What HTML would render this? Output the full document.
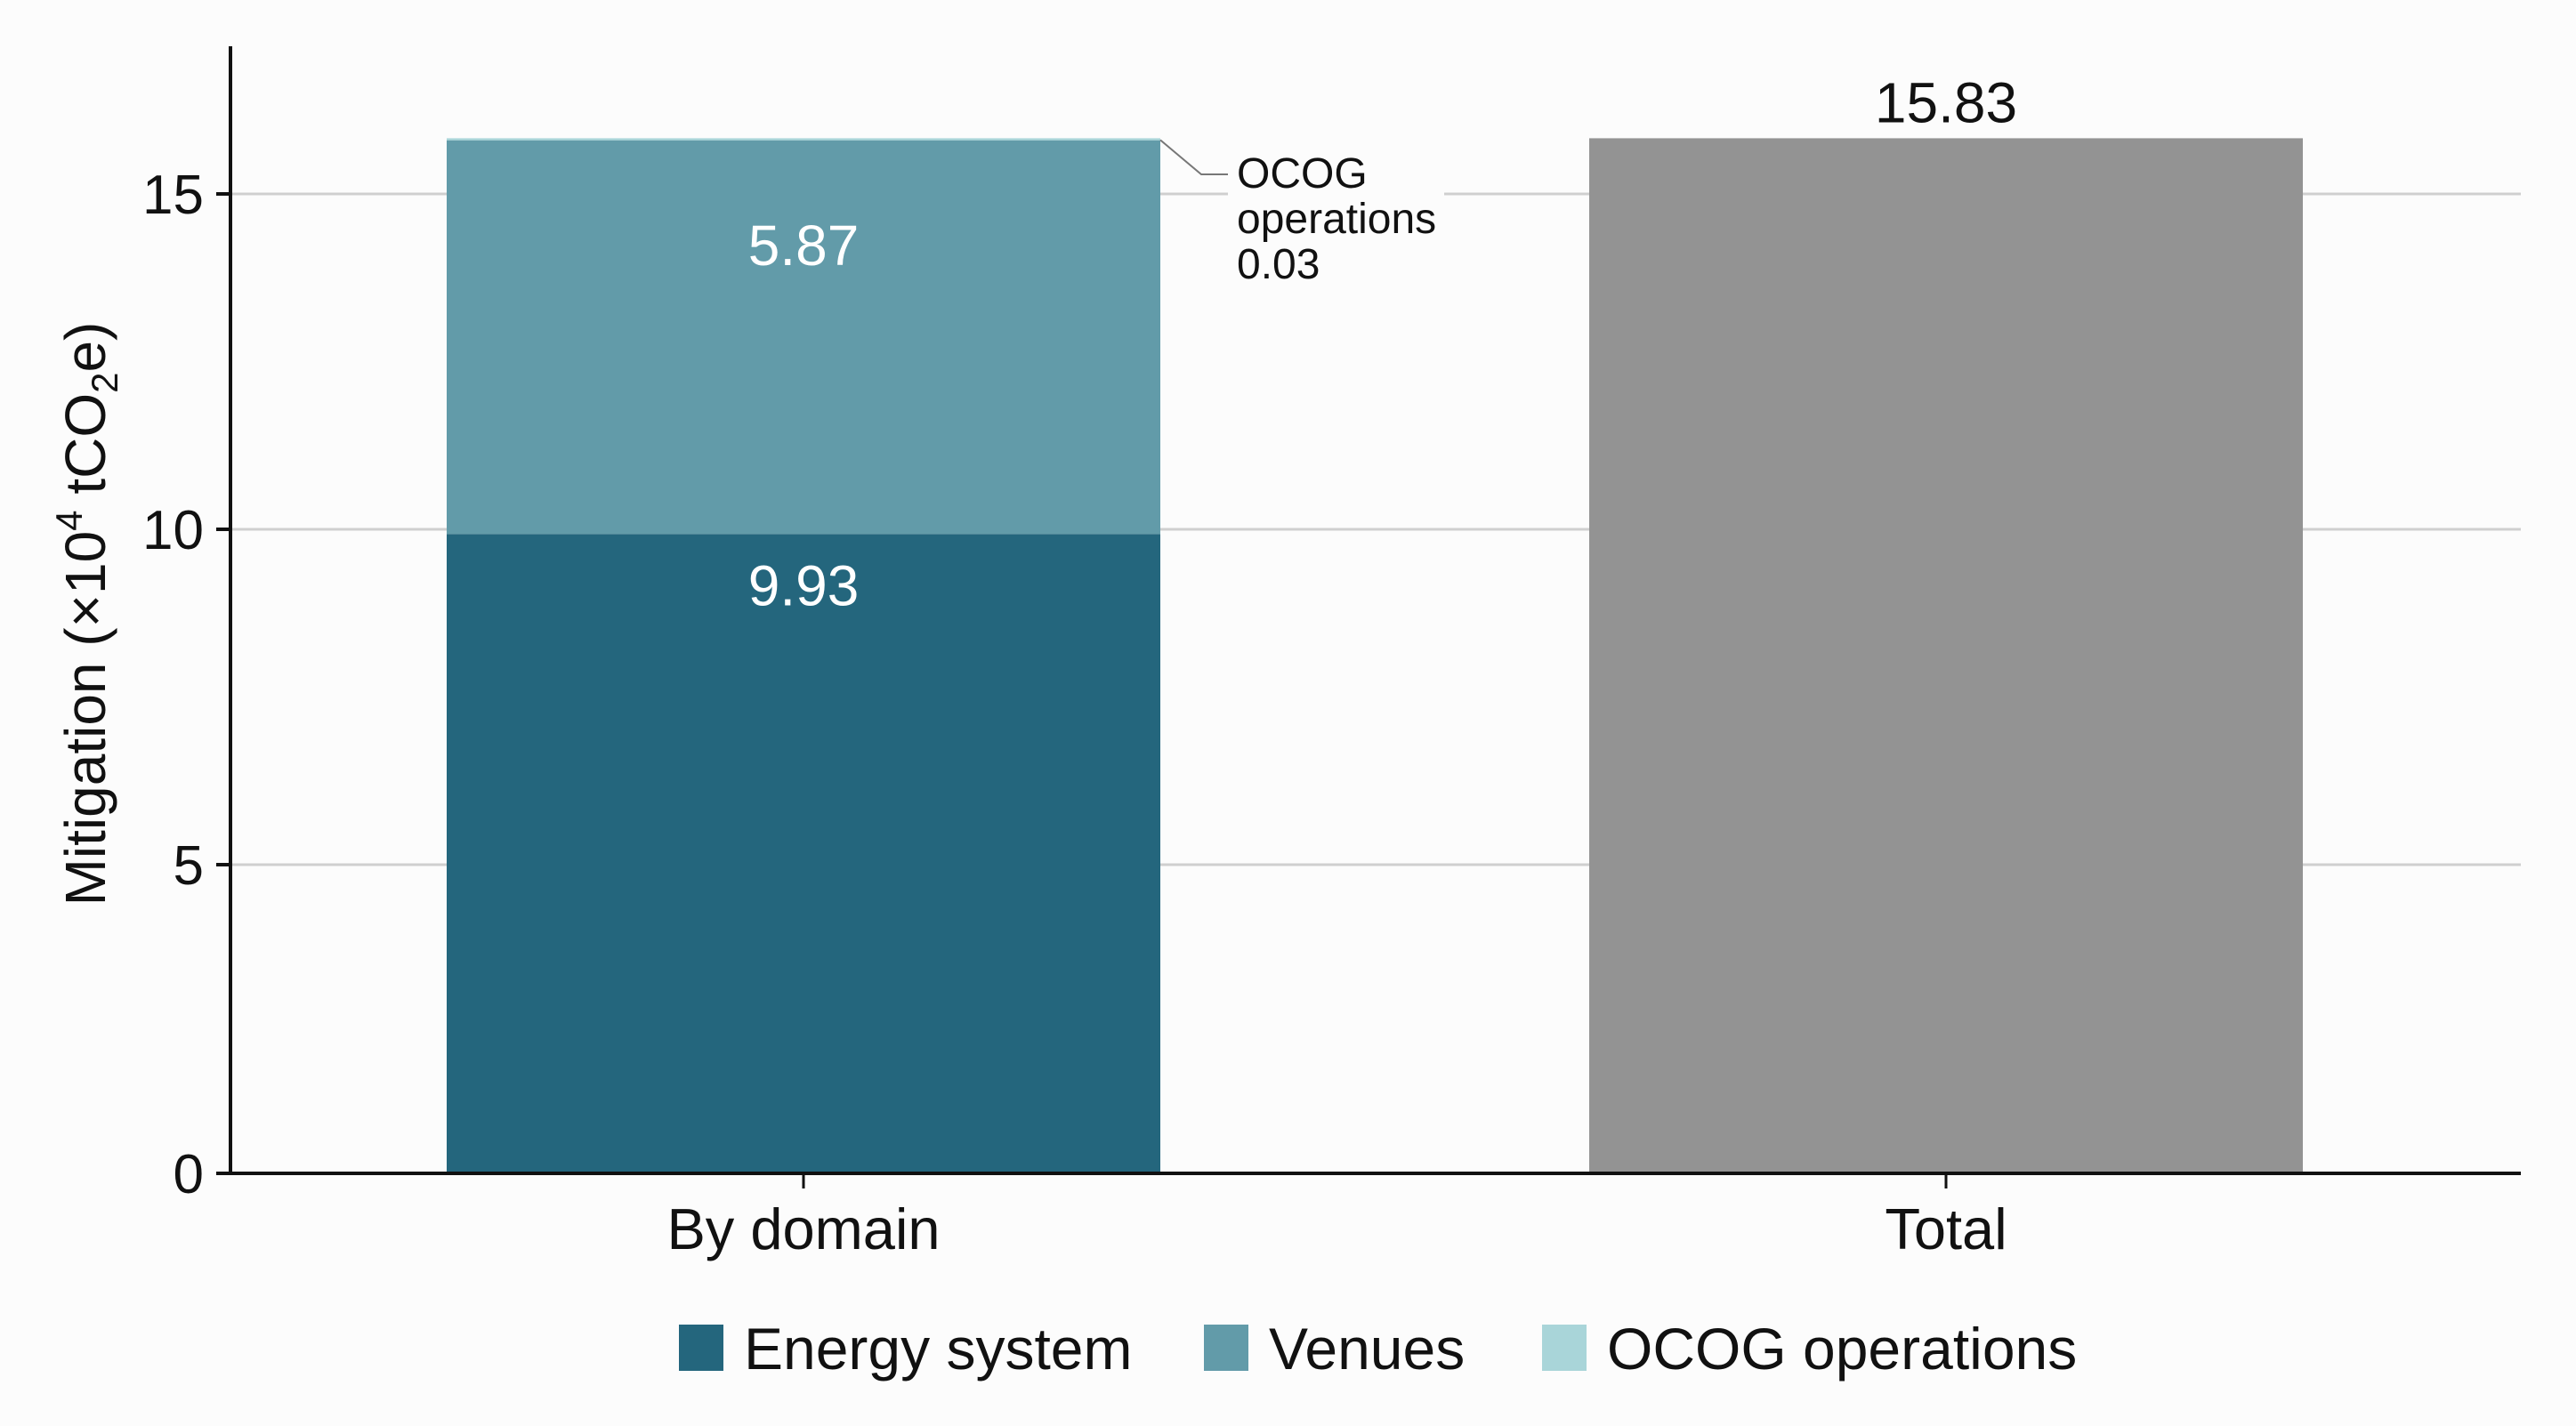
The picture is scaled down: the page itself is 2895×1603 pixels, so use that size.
<!DOCTYPE html>
<html><head><meta charset="utf-8"><style>
html,body{margin:0;padding:0;background:#fcfcfc;}
svg{display:block;font-family:"Liberation Sans",sans-serif;}
</style></head><body>
<svg id="chart" width="2895" height="1603" viewBox="0 0 2895 1603" xmlns="http://www.w3.org/2000/svg">
<rect x="0" y="0" width="2895" height="1603" fill="#fcfcfc"/>
<g id="grid"></g><g id="bars"></g><g id="axes"></g><g id="labels"></g><g id="legend"></g>
</svg>
<script>
const categories = ["By domain", "Total"];
const seriesNames = ["Energy system", "Venues", "OCOG operations"];
const seriesColors = ["#24667d", "#629ba9", "#a9d5d9"];
const energyValues = [9.93, 0];
const venueValues = [5.87, 0];
const ocogValues = [0.03, 0];
const totalValues = [0, 15.83];
const yTicks = [0, 5, 10, 15];
const valueLabels = ["9.93", "5.87"];
const totalLabel = "15.83";
const annotationLines = ["OCOG", "operations", "0.03"];

const NS = "http://www.w3.org/2000/svg";
const svg = document.getElementById('chart');
function mk(tag, attrs, parent, text){
  const e = document.createElementNS(NS, tag);
  for (const k in attrs) e.setAttribute(k, attrs[k]);
  if (text !== undefined) e.textContent = text;
  parent.appendChild(e); return e;
}
const baseY = 1319, axisX = 259, axisRight = 2833;
function y(v){ return v === 0 ? baseY : 1349 - 75.4 * v; }
const bandCenters = [903, 2187];
function x(i){ return bandCenters[i]; }
const barW = 802;

const grid = document.getElementById('grid');
yTicks.forEach(t => {
  if (t === 0) return;
  if (t === 15) {
    const g1 = mk('line', {x1: axisX, x2: 1380, y1: y(t), y2: y(t), stroke: '#cfcfcf', 'stroke-width': 3}, grid);
    
    
    const g2 = mk('line', {x1: 1623, x2: axisRight, y1: y(t), y2: y(t), stroke: '#cfcfcf', 'stroke-width': 3}, grid);
    
    
  } else {
    const g = mk('line', {x1: axisX, x2: axisRight, y1: y(t), y2: y(t), stroke: '#cfcfcf', 'stroke-width': 3}, grid);
    
    
  }
});

const bars = document.getElementById('bars');
const stacks = [energyValues, venueValues, ocogValues];
let stackTop = baseY;
categories.forEach((c, i) => {
  let cum = 0;
  stacks.forEach((arr, s) => {
    const v = arr[i];
    if (!v) return;
    const top = y(cum + v), bot = y(cum);
    const r = mk('rect', {x: x(i) - barW/2, y: top, width: barW, height: bot - top, fill: seriesColors[s]}, bars);
    
    
    cum += v;
    if (i === 0) stackTop = top;
  });
  if (totalValues[i]) {
    const top = y(totalValues[i]);
    const r = mk('rect', {x: x(i) - barW/2, y: top, width: barW, height: baseY - top, fill: '#939393'}, bars);
    
    
  }
});

const axes = document.getElementById('axes');
const ya = mk('line', {x1: axisX, x2: axisX, y1: 52, y2: baseY + 2, stroke: '#111', 'stroke-width': 4}, axes);


const xa = mk('line', {x1: 243, x2: axisRight, y1: baseY, y2: baseY, stroke: '#111', 'stroke-width': 4}, axes);


yTicks.forEach(t => {
  const tk = mk('line', {x1: 243, x2: axisX, y1: y(t), y2: y(t), stroke: '#111', 'stroke-width': 4}, axes);
  
  
  const tl = mk('text', {x: 229, y: y(t) + 22, 'text-anchor': 'end', 'font-size': 62, fill: '#111'}, axes, String(t));
  
  
});
categories.forEach((c, i) => {
  const tk = mk('line', {x1: x(i), x2: x(i), y1: baseY, y2: 1336, stroke: '#111', 'stroke-width': 3}, axes);
  
  
  const tl = mk('text', {x: x(i), y: 1404, 'text-anchor': 'middle', 'font-size': 65, fill: '#111'}, axes, c);
  
  
});
const yt = mk('text', {transform: 'translate(118,690) rotate(-90)', 'text-anchor': 'middle', 'font-size': 64, fill: '#111'}, axes);


mk('tspan', {}, yt, 'Mitigation (×10');
mk('tspan', {'font-size': 42, dy: -26}, yt, '4');
mk('tspan', {dy: 26}, yt, ' tCO');
mk('tspan', {'font-size': 42, dy: 14}, yt, '2');
mk('tspan', {dy: -14}, yt, 'e)');

const labels = document.getElementById('labels');
const l1 = mk('text', {x: x(0), y: y(energyValues[0]) + 80, 'text-anchor': 'middle', 'font-size': 64, fill: '#ffffff'}, labels, valueLabels[0]);


const l2 = mk('text', {x: x(0), y: 298, 'text-anchor': 'middle', 'font-size': 64, fill: '#ffffff'}, labels, valueLabels[1]);


const l3 = mk('text', {x: x(1), y: y(totalValues[1]) - 18, 'text-anchor': 'middle', 'font-size': 64, fill: '#111'}, labels, totalLabel);


const ld = mk('polyline', {points: '1304,' + (stackTop + 2) + ' 1350,196 1380,196', fill: 'none', stroke: '#777', 'stroke-width': 2}, labels);


annotationLines.forEach((t, k) => {
  const a = mk('text', {x: 1390, y: 211 + k * 51, 'font-size': 48, fill: '#111'}, labels, t);
  
  
});

const legend = document.getElementById('legend');
const swX = [763, 1353, 1733];
seriesNames.forEach((n, s) => {
  const sw = mk('rect', {x: swX[s], y: 1489, width: 50, height: 52, fill: seriesColors[s]}, legend);
  
  
  const tx = mk('text', {x: swX[s] + 73, y: 1539, 'font-size': 66, fill: '#111'}, legend, n);
  
  
});
</script>
</body></html>
